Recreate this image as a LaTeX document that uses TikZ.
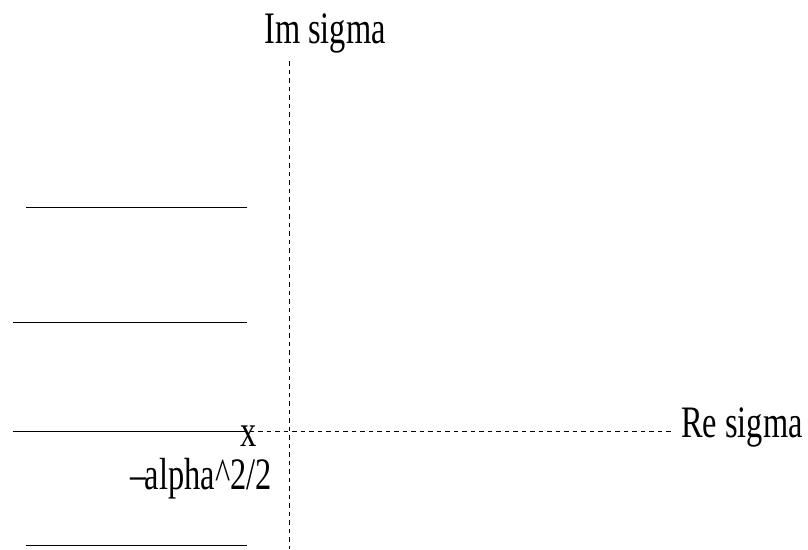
\documentclass[tikz,border=0pt]{standalone}
\usepackage{fontspec}
\setmainfont{Liberation Serif}
\tikzset{
  axisline/.style={line width=1pt, dash pattern=on 4.5pt off 4pt},
  cutline/.style={line width=1pt},
  lbl/.style={inner sep=0pt, font=\fontsize{45}{45}\selectfont},
}
\newcommand{\narrow}[1]{\scalebox{0.72}[1]{#1}}
\begin{document}
\begin{tikzpicture}[x=1pt,y=-1pt]
\useasboundingbox (0,0) rectangle (808,549);
% axes
\coordinate (vtop) at (289,61);
\coordinate (vbot) at (289,549);
\coordinate (hleft) at (37,431);
\coordinate (hright) at (672,431);
\draw[axisline] (vtop) -- (vbot);
\draw[axisline] (hleft) -- (hright);
% cut lines
\draw[cutline] (26,207) -- (247,207);
\draw[cutline] (13,322.5) -- (247,322.5);
\draw[cutline] (13,431) -- (241,431);
\draw[cutline] (26,545.5) -- (247,545.5);
% labels
\node[lbl, anchor=base] (im) at (325,43) {\narrow{Im sigma}};
\node[lbl, anchor=base west] (re) at (681,437) {\narrow{Re sigma}};
\node[lbl, anchor=base] (x) at (249,446) {\narrow{x}};
\node[lbl, anchor=base west] (alpha) at (130,489) {\narrow{\textendash\kern-2pt alpha\textasciicircum 2/2}};
\end{tikzpicture}
\end{document}
